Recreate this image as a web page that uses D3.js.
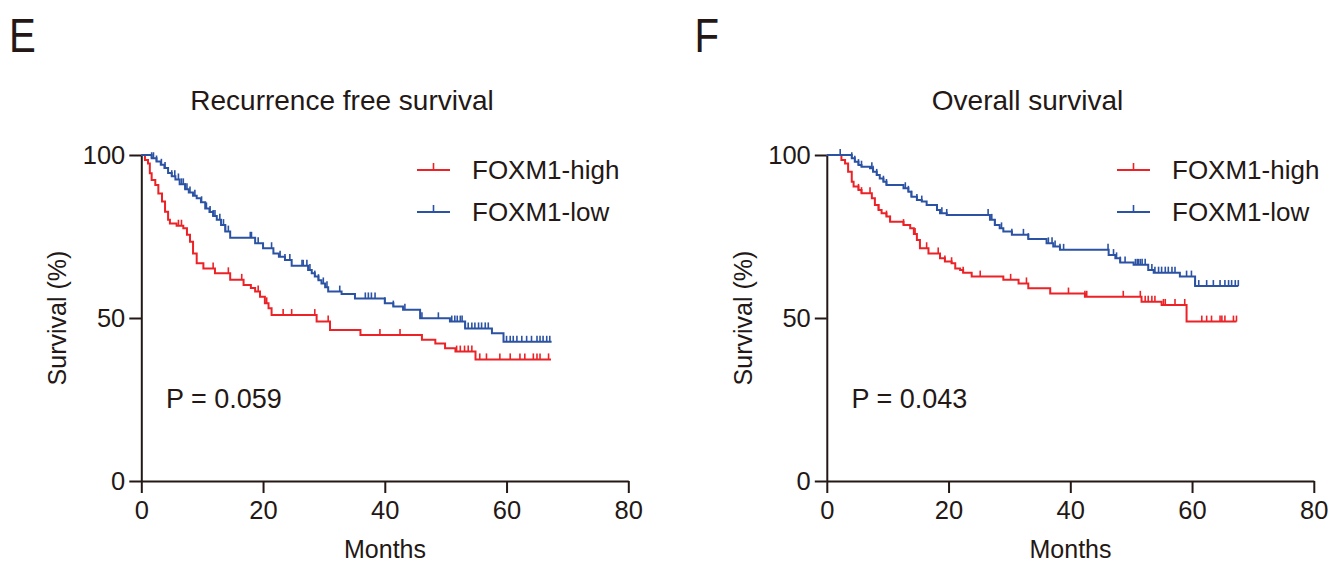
<!DOCTYPE html>
<html>
<head>
<meta charset="utf-8">
<script src="https://cdn.jsdelivr.net/npm/d3@7"></script>
<style>
  body { margin: 0; background: #fff; }
  text { font-family: "Liberation Sans", Arial, sans-serif; fill: #231815; }
</style>
</head>
<body>
<div id="chart"></div>
<script>
// Осі
const xTicks = [0, 20, 40, 60, 80];
const yTicks = [0, 50, 100];
const seriesNames = ["FOXM1-high", "FOXM1-low"];

// E: Recurrence free survival — [місяць, виживання %] після кожного кроку
const rfsHighSteps = [[0,100],[0.6,98.5],[1.1,97.4],[1.4,94.4],[1.7,92.3],[2.3,90.8],[2.8,88.2],[3.4,85.7],[3.9,82.6],[4.4,80.1],[4.7,79],[5.8,78.3],[6.9,77.5],[7.5,75.5],[8.0,73.4],[8.5,69.8],[9.1,66.8],[10.2,65.2],[12.1,63.7],[14.6,61.7],[16.8,60.1],[18.0,59.2],[18.7,58.1],[19.5,56.5],[20.3,54.5],[20.9,53],[21.4,50.9],[28.8,48.9],[31,46.3],[36,44.8],[46.1,43.3],[48.3,42.2],[49.9,40.7],[51.6,39.7],[54.9,37.3],[67.3,37.3]];
const rfsHighCensor = [6.1,6.6,11.8,14.3,16.5,19.2,20.6,23.3,24.7,28.5,30.7,39.2,42.5,51.8,52.4,53.1,53.7,54.3,55.6,56.7,58.9,60.6,62.2,63,64.4,65,65.5,66.9];
const rfsLowSteps = [[0,100],[1.7,99],[2.5,98],[3.2,97],[3.8,96],[4.4,94.5],[5.0,93.5],[5.6,92.5],[6.3,91],[7.2,89.5],[7.8,88.5],[8.5,87.5],[9.1,86.7],[9.8,85.5],[10.5,83.6],[11.2,82.5],[11.8,81.3],[12.4,80.1],[13.1,78.5],[13.8,76.5],[14.6,74.6],[18.7,72.9],[20,71.4],[21.7,69.8],[22.6,68.8],[23.6,67.8],[24.7,66],[27.4,64.7],[28,63.7],[28.5,62.7],[29.1,61.6],[29.6,60.6],[30.2,59.4],[30.7,58.1],[32.9,57.4],[35.1,56],[40,54.5],[41.4,53.5],[43,52.5],[45.8,49.9],[50.7,48.9],[53.2,46.8],[57.6,45.3],[59.5,42.7],[67.4,42.7]];
const rfsLowCensor = [1.7,2.0,2.5,3.3,3.9,5.0,5.5,6.1,6.6,6.9,7.2,7.5,8.0,8.8,9.9,10.7,11.3,11.8,12.1,12.9,13.5,13.8,14.3,17.9,18.1,19.2,21.4,22.8,23.6,24.4,26.4,26.6,27.2,27.7,28.5,29.1,29.9,30.5,32.6,36.8,37.3,37.8,38.4,40,41.4,43.3,46.1,48.8,51,51.5,51.9,52.4,52.7,53.2,53.7,54.3,54.8,55.4,55.9,56.5,57,60,60.6,61.1,61.7,62.5,63.3,64.1,65,65.5,66,66.6,67.1];

// F: Overall survival
const osHighSteps = [[0,100],[2.4,98.5],[3.0,97.4],[3.5,94.9],[4.1,91.8],[4.4,90.3],[5.2,89.3],[5.7,88.3],[7.4,86.7],[7.9,84.7],[8.5,83.1],[9.0,82.1],[9.8,81.1],[10.4,79.5],[12.6,78.5],[13.7,77.5],[14.3,75.8],[14.8,73.9],[15.3,71.4],[16.7,69.8],[18.6,68.3],[19.4,67.3],[20.5,66.8],[21.1,65.2],[21.9,64.7],[22.4,63.9],[23.8,62.7],[29,61.7],[31.5,60.6],[33.1,59.1],[36.7,57.5],[42.4,56.5],[51.7,55],[55,54],[59.1,48.9],[67.3,48.9]];
const osHighCensor = [5.2,5.7,7.1,8.5,9.8,10.4,12.6,14.5,16.4,18.3,19.4,20.5,22.4,25.2,30.2,32.8,39.7,42.4,42.7,48.7,51.5,52.3,52.8,53.4,53.9,55.3,55.6,57.2,58.8,61.6,62.4,63.2,64.6,64.9,65.4,66.8,67.3];
const osLowSteps = [[0,100],[4.1,99],[4.6,97.9],[5.2,96.9],[5.7,96.4],[7.1,95.9],[7.6,94.9],[8.2,93.9],[8.7,92.8],[9.3,91.8],[9.8,90.8],[12.6,89.8],[13.4,88.7],[13.9,87.2],[14.8,86.2],[15.6,85.7],[16.4,84.7],[18.1,83.1],[18.6,82.1],[19.7,81.6],[26.8,80.1],[27.6,78.5],[28.4,77.5],[29,76.5],[30.4,75.5],[33.1,74.2],[36.1,72.9],[37.2,71.9],[38.3,70.9],[46.3,69.3],[47.4,68.3],[48.2,67],[50.4,66.3],[52.8,64.7],[53.7,63.9],[58,62.7],[60.5,59.8],[67.6,59.8]];
const osLowCensor = [2.2,4.1,4.6,5.2,5.7,7.4,7.6,8.2,9.3,9.8,12.9,13.4,13.9,14.8,15.6,18.1,18.9,19.7,26.5,27.1,27.6,28.7,30.4,32.3,33.1,36.4,37,37.5,38.3,38.9,46.2,47.1,47.6,48.2,49,50.7,51,51.2,51.5,51.8,52.3,53.4,53.9,54.5,55,55.6,56.1,56.7,57.2,59.1,59.9,60.5,61.1,62.4,63.5,64.6,65.4,66,66.5,67.1,67.6];

const WIDTH = 1331;
const HEIGHT = 563;
const RED = "#ec2227";
const BLUE = "#2b52a3";
const AXIS = "#231815";

const svg = d3.select("#chart").append("svg")
    .attr("width", WIDTH)
    .attr("height", HEIGHT);

// Значення кривої в момент t (ступінчаста функція)
function survivalAt(steps, t) {
    let s = steps[0][1];
    for (const d of steps) {
        if (d[0] <= t) s = d[1];
    }
    return s;
}

function drawPanel(opt) {
    const g = svg.append("g").attr("transform", `translate(${opt.dx},0)`);
    const x = d3.scaleLinear().domain([0, 80]).range([141.3, 628.3]);
    const y = d3.scaleLinear().domain([0, 100]).range([481, 155]);

    // Літера панелі (шрифт вужчий, ніж Liberation Sans)
    g.append("text")
        .attr("transform", "translate(9,52) scale(0.82,1)")
        .attr("font-size", 49)
        .text(opt.letter);

    // Заголовок
    g.append("text")
        .attr("x", 342).attr("y", 110)
        .attr("text-anchor", "middle")
        .attr("font-size", 28)
        .text(opt.title);

    // Осі
    const xAxis = g.append("g")
        .attr("transform", `translate(0,${y(0)})`)
        .call(d3.axisBottom(x).tickValues(xTicks).tickSize(12).tickSizeOuter(0).tickPadding(8));
    const yAxis = g.append("g")
        .attr("transform", `translate(${x(0)},0)`)
        .call(d3.axisLeft(y).tickValues(yTicks).tickSize(12).tickSizeOuter(0).tickPadding(4));
    [xAxis, yAxis].forEach(a => {
        a.select(".domain").attr("stroke", AXIS).attr("stroke-width", 2);
        a.selectAll(".tick line").attr("stroke", AXIS).attr("stroke-width", 2);
        a.selectAll(".tick text")
            .attr("font-size", 25.5)
            .attr("font-family", "Liberation Sans, Arial, sans-serif")
            .attr("fill", "#111");
    });

    g.append("text")
        .attr("x", 385).attr("y", 558)
        .attr("text-anchor", "middle")
        .attr("font-size", 25)
        .text("Months");
    g.append("text")
        .attr("transform", "translate(66,318) rotate(-90)")
        .attr("text-anchor", "middle")
        .attr("font-size", 25)
        .text("Survival (%)");

    g.append("text")
        .attr("x", 166).attr("y", 408)
        .attr("font-size", 27)
        .text(opt.p);

    const line = d3.line()
        .x(d => x(d[0]))
        .y(d => y(d[1]))
        .curve(d3.curveStepAfter);

    opt.series.forEach(s => {
        g.append("path")
            .datum(s.steps)
            .attr("fill", "none")
            .attr("stroke", s.color)
            .attr("stroke-width", 2)
            .attr("d", line);
        g.selectAll(null)
            .data(s.censor)
            .enter().append("line")
            .attr("x1", d => x(d)).attr("x2", d => x(d))
            .attr("y1", d => y(survivalAt(s.steps, d)))
            .attr("y2", d => y(survivalAt(s.steps, d)) - 6)
            .attr("stroke", s.color)
            .attr("stroke-width", 1.6);
    });

    // Легенда
    const leg = g.append("g").attr("transform", `translate(${opt.legendDx},0)`);
    opt.series.forEach((s, i) => {
        const ly = 170 + i * 42;
        leg.append("line")
            .attr("x1", 417).attr("x2", 450)
            .attr("y1", ly).attr("y2", ly)
            .attr("stroke", s.color).attr("stroke-width", 2);
        leg.append("line")
            .attr("x1", 433.5).attr("x2", 433.5)
            .attr("y1", ly).attr("y2", ly - 7)
            .attr("stroke", s.color).attr("stroke-width", 1.6);
        leg.append("text")
            .attr("x", 472).attr("y", ly + 9)
            .attr("font-size", 26)
            .text(seriesNames[i]);
    });
}

drawPanel({
    dx: 0, legendDx: 0, letter: "E", title: "Recurrence free survival", p: "P = 0.059",
    series: [
        { steps: rfsHighSteps, censor: rfsHighCensor, color: RED },
        { steps: rfsLowSteps, censor: rfsLowCensor, color: BLUE }
    ]
});
drawPanel({
    dx: 685.5, legendDx: 14.5, letter: "F", title: "Overall survival", p: "P = 0.043",
    series: [
        { steps: osHighSteps, censor: osHighCensor, color: RED },
        { steps: osLowSteps, censor: osLowCensor, color: BLUE }
    ]
});
</script>
</body>
</html>
